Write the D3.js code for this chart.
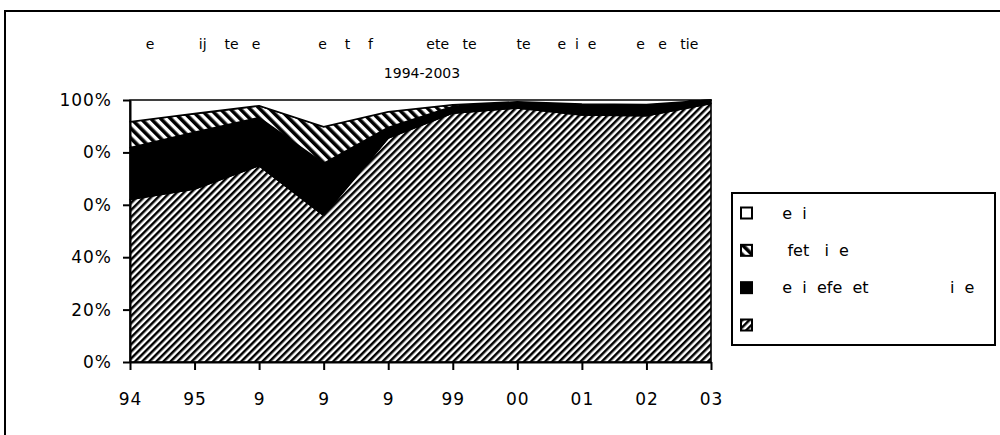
<!DOCTYPE html>
<html><head><meta charset="utf-8">
<script src="https://cdn.jsdelivr.net/npm/d3@7"></script>
<style>
html,body{margin:0;padding:0;background:#fff;}
svg{display:block;}
text{font-family:"DejaVu Sans",Verdana,sans-serif;fill:#000;white-space:pre;}
</style></head><body>
<svg id="chart" width="1000" height="435"></svg>
<script>
// ---- data ----
const years = ["1994","1995","1996","1997","1998","1999","2000","2001","2002","2003"];
const xTickLabels = ["94","95","9","9","9","99","00","01","02","03"];
const yTickValues = [0,20,40,60,80,100];
const yTickLabels = ["0%","20%","40%","0%","0%","100%"];
// series shares (percent), bottom to top
const seriesDiag  = [62, 66, 75, 56, 85.5, 95, 97, 94.3, 94, 98.7];
const seriesBlack = [19.8, 21.7, 18.3, 19.8, 4, 2.5, 2.3, 4.2, 4.3, 1.3];
const seriesBack  = [9.9, 7.1, 4.5, 14, 6, 0.7, 0, 0, 0, 0];
const seriesWhite = [8.3, 5.2, 2.2, 10.2, 4.5, 1.8, 0.7, 1.5, 1.7, 0];
const seriesKeys = ["diag","black","back","white"];
const legendLabels = ["    e  i", "     fet   i  e", "    e  i  efe  et                i  e", ""]; // white, back, black, diag
const titleLine1 = "e          ij    te   e             e    t    f            ete   te         te      e  i  e         e   e   tie";
const titleLine2 = "1994-2003";

const table = years.map((y,i)=>({year:y, diag:seriesDiag[i], black:seriesBlack[i], back:seriesBack[i], white:seriesWhite[i]}));

const svg = d3.select("#chart");
const defs = svg.append("defs");
function hatch(id, period, width, angle){
  const p = defs.append("pattern").attr("id",id).attr("patternUnits","userSpaceOnUse")
    .attr("width",period).attr("height",period).attr("patternTransform",`rotate(${angle})`);
  p.append("rect").attr("width",period).attr("height",period).attr("fill","#fff");
  p.append("rect").attr("width",width).attr("height",period).attr("fill","#000");
}
hatch("pDiag", 5, 2.5, 45);
hatch("pBack", 7, 3.6, -45);

const fills = {diag:"url(#pDiag)", black:"#000", back:"url(#pBack)", white:"#fff"};

// frame
svg.append("path").attr("d","M5,436 V11 H1001").attr("fill","none").attr("stroke","#000").attr("stroke-width",2);

const x = d3.scalePoint().domain(years).range([130,711]);
const y = d3.scaleLinear().domain([0,100]).range([362,100]);

const stack = d3.stack().keys(seriesKeys);
const layers = stack(table);
const area = d3.area().x(d=>x(d.data.year)).y0(d=>y(d[0])).y1(d=>y(d[1]));

svg.append("g").selectAll("path").data(layers).join("path")
  .attr("d",area).attr("fill",d=>fills[d.key])
  .attr("stroke","#000").attr("stroke-width",1.6).attr("stroke-linejoin","round");

// axes
const yAxis = svg.append("g").attr("transform","translate(130,0)")
  .call(d3.axisLeft(y).tickValues(yTickValues).tickFormat((d,i)=>yTickLabels[i]).tickSize(7).tickSizeOuter(0).tickPadding(11));
const xAxis = svg.append("g").attr("transform","translate(0,362)")
  .call(d3.axisBottom(x).tickFormat((d,i)=>xTickLabels[i]).tickSize(8).tickSizeOuter(0).tickPadding(23));
[yAxis,xAxis].forEach(g=>{
  g.selectAll("path,line").attr("stroke","#000").attr("stroke-width",2);
  g.selectAll("text").attr("font-family","DejaVu Sans").attr("font-size",17).attr("letter-spacing",1).attr("fill","#000");
});

// title
svg.append("text").attr("x",422).attr("y",49).attr("text-anchor","middle").attr("font-size",14).text(titleLine1);
svg.append("text").attr("x",422).attr("y",78).attr("text-anchor","middle").attr("font-size",14).text(titleLine2);

// legend
const lg = svg.append("g");
lg.append("rect").attr("x",732).attr("y",193).attr("width",263).attr("height",152)
  .attr("fill","#fff").attr("stroke","#000").attr("stroke-width",2);
const legendKeys = ["white","back","black","diag"];
const lgRow = d3.scalePoint().domain(legendKeys).range([213,325]);
legendKeys.forEach((k,i)=>{
  const cy = lgRow(k);
  lg.append("rect").attr("x",741).attr("y",cy-5.5).attr("width",11).attr("height",11)
    .attr("fill",fills[k]).attr("stroke","#000").attr("stroke-width",2);
  lg.append("text").attr("x",762).attr("y",cy).attr("dy","0.35em").attr("font-size",16).text(legendLabels[i]);
});
</script>
</body></html>
